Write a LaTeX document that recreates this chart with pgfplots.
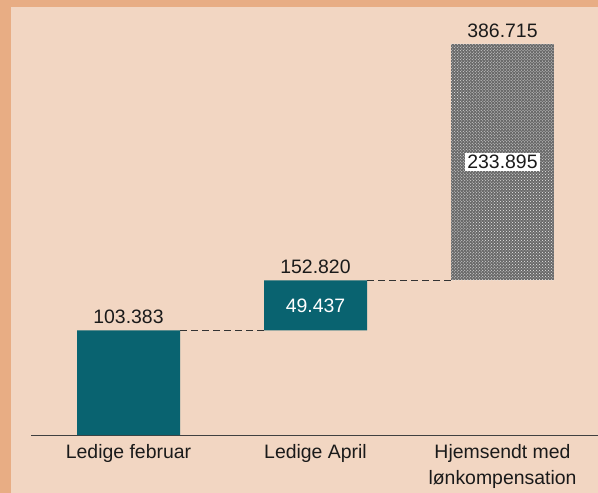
\documentclass[border=0pt]{standalone}
\usepackage{pgfplots}
\pgfplotsset{compat=1.18}
\usepackage{fontspec}
\setmainfont{Liberation Sans}
\usetikzlibrary{patterns}
\definecolor{outerc}{RGB}{232,173,132}
\definecolor{innerc}{RGB}{242,214,194}
\definecolor{tealc}{RGB}{9,99,112}
\definecolor{txt}{RGB}{26,26,26}
\begin{document}
\begin{tikzpicture}
\fill[outerc] (-31bp,-58bp) rectangle (567bp,435bp);
\fill[innerc] (-20bp,-58bp) rectangle (567bp,428bp);
\useasboundingbox (-31bp,-58bp) rectangle (567bp,435bp);
\begin{axis}[
  at={(0,0)}, anchor=south west,
  scale only axis, width=567bp, height=435bp,
  xmin=-0.5214, xmax=2.5107, ymin=0, ymax=429.8,
  axis x line=bottom, hide y axis,
  axis line style={-, draw=black!75, line width=1bp},
  xtick={0,1,2}, major tick length=0pt,
  xticklabels={Ledige februar, Ledige April, {Hjemsendt med\\lønkompensation}},
  xticklabel style={align=center, font=\fontsize{19.5}{26}\selectfont, text=txt, yshift=-6bp},
  clip=false,
]
\addplot[sharp plot, dash pattern=on 7bp off 4bp, draw=black!80, line width=0.9bp, forget plot] coordinates {(0.2754,103.383) (0.7246,103.383)};
\addplot[sharp plot, dash pattern=on 7bp off 4bp, draw=black!80, line width=0.9bp, forget plot] coordinates {(1.2754,152.820) (1.7246,152.820)};
\addplot[ybar stacked, bar width=103bp, draw=none, fill=none] coordinates {(0,0) (1,103.383) (2,152.820)};
\addplot[ybar stacked, bar width=103bp, draw=none, fill=tealc] coordinates {(0,103.383) (1,49.437) (2,0)};
\addplot[ybar stacked, bar width=103bp, draw=none, fill={rgb,255:red,105;green,105;blue,105}, postaction={pattern=crosshatch dots, pattern color=white!85!gray}] coordinates {(0,0) (1,0) (2,233.895)};
\coordinate (l1) at (axis cs:0,103.383);
\coordinate (l2) at (axis cs:1,152.820);
\coordinate (l3) at (axis cs:2,386.715);
\coordinate (m2) at (axis cs:1,128.1);
\coordinate (m3) at (axis cs:2,269.77);
\end{axis}
\node[anchor=south, text=txt, font=\fontsize{19.5}{23}\selectfont, inner sep=0pt, yshift=6bp] at (l1) {103.383};
\node[anchor=south, text=txt, font=\fontsize{19.5}{23}\selectfont, inner sep=0pt, yshift=6bp] at (l2) {152.820};
\node[anchor=south, text=txt, font=\fontsize{19.5}{23}\selectfont, inner sep=0pt, yshift=6bp] at (l3) {386.715};
\node[text=white, font=\fontsize{19.5}{23}\selectfont] at (m2) {49.437};
\node[text=txt, fill=white, inner sep=2bp, font=\fontsize{19.5}{23}\selectfont] at (m3) {233.895};
\end{tikzpicture}
\end{document}
